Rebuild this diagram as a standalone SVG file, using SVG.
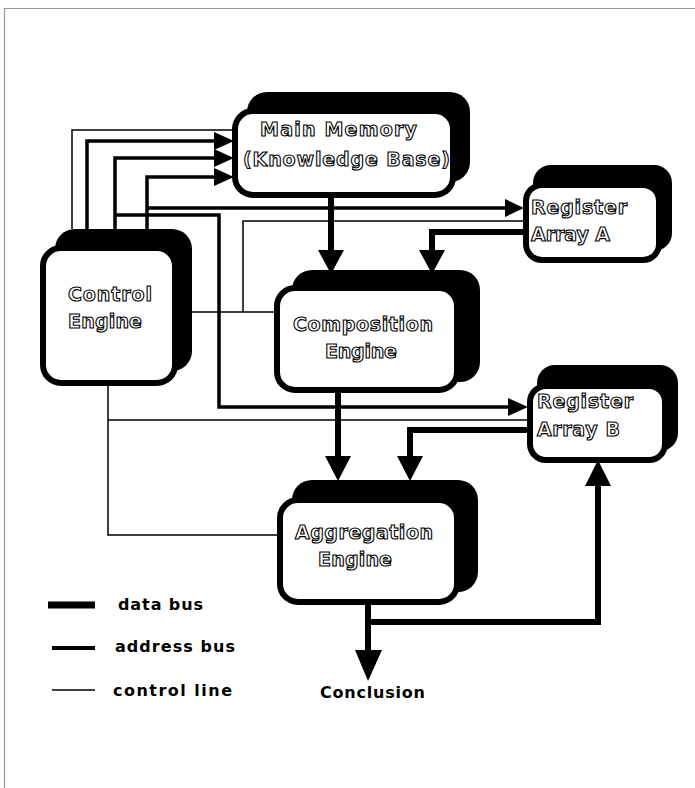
<svg xmlns="http://www.w3.org/2000/svg" width="695" height="788" viewBox="0 0 695 788">
<style>
.frame{fill:none;stroke:#999;stroke-width:1.2}
.sh{fill:#000}
.bx{fill:#fff;stroke:#000;stroke-width:6}
.lbl{font-family:"DejaVu Sans",sans-serif;font-weight:bold;font-size:19px;fill:#fff;stroke:#000;stroke-width:1.1}
.ctl{fill:none;stroke:#000;stroke-width:1.5}
.adr{fill:none;stroke:#000;stroke-width:3.5}
.dat{fill:none;stroke:#000;stroke-width:6}
.ah{fill:#000}
.leg{font-family:"DejaVu Sans",sans-serif;font-weight:bold;font-size:16px;fill:#000}
</style>
<path class="frame" d="M4.5,788 V8.5 H695"/>
<g id="connectors">
<path class="ctl" d="M72,229 V130 H234"/>
<path class="ctl" d="M192,312 H275"/>
<path class="ctl" d="M243,312 V221 H524"/>
<path class="ctl" d="M108,385 V535 H278"/>
<path class="ctl" d="M108,420 H528"/>
<path class="adr" d="M87,229 V141 H216"/>
<path class="adr" d="M115,229 V158 H216"/>
<path class="adr" d="M147,229 V177 H216"/>
<path class="adr" d="M147,208 H507"/>
<path class="adr" d="M115,215 H219 V407 H510"/>
<polygon class="ah" points="214,132 234,141 214,150"/>
<polygon class="ah" points="214,149 234,158 214,167"/>
<polygon class="ah" points="214,168 234,177 214,186"/>
<polygon class="ah" points="505,199 524,208 505,217"/>
<polygon class="ah" points="508,398 528,407 508,416"/>
<path class="dat" d="M331,197 V252"/>
<path class="dat" d="M524,232 H432 V252"/>
<path class="dat" d="M338,392 V458"/>
<path class="dat" d="M528,430 H410 V458"/>
<path class="dat" d="M368,604 V652"/>
<path class="dat" d="M368,622 H598 V484"/>
<polygon class="ah" points="318,250 344,250 331,274"/>
<polygon class="ah" points="419,250 445,250 432,274"/>
<polygon class="ah" points="325,456 351,456 338,481"/>
<polygon class="ah" points="397,456 423,456 410,481"/>
<polygon class="ah" points="355,650 382,650 368,681"/>
<polygon class="ah" points="585,486 611,486 598,460"/>
</g>
<g id="main-memory">
<rect class="sh" x="247" y="92" width="223" height="90" rx="20"/>
<rect class="bx" x="235" y="111" width="218" height="84" rx="18"/>
<text class="lbl" x="260" y="136" textLength="157">Main Memory</text>
<text class="lbl" x="243" y="166" textLength="207">(Knowledge Base)</text>
</g>
<g id="control-engine">
<rect class="sh" x="55" y="229" width="137" height="142" rx="20"/>
<rect class="bx" x="43" y="248" width="132" height="135" rx="18"/>
<text class="lbl" x="68" y="301" textLength="84">Control</text>
<text class="lbl" x="68" y="328" textLength="74">Engine</text>
</g>
<g id="register-a">
<rect class="sh" x="533" y="165" width="139" height="86" rx="18"/>
<rect class="bx" x="526" y="185" width="133" height="75" rx="16"/>
<text class="lbl" x="531" y="214" textLength="96">Register</text>
<text class="lbl" x="531" y="241" textLength="79">Array A</text>
</g>
<g id="composition-engine">
<rect class="sh" x="292" y="270" width="188" height="112" rx="20"/>
<rect class="bx" x="277" y="288" width="180" height="102" rx="18"/>
<text class="lbl" x="293" y="331" textLength="140">Composition</text>
<text class="lbl" x="325" y="358" textLength="72">Engine</text>
</g>
<g id="register-b">
<rect class="sh" x="537" y="365" width="141" height="86" rx="18"/>
<rect class="bx" x="530" y="386" width="135" height="74" rx="16"/>
<text class="lbl" x="537" y="408" textLength="96">Register</text>
<text class="lbl" x="537" y="436" textLength="83">Array B</text>
</g>
<g id="aggregation-engine">
<rect class="sh" x="292" y="480" width="186" height="112" rx="20"/>
<rect class="bx" x="280" y="500" width="177" height="102" rx="18"/>
<text class="lbl" x="295" y="539" textLength="138">Aggregation</text>
<text class="lbl" x="318" y="566" textLength="74">Engine</text>
</g>
<g id="legend">
<line x1="48" y1="605" x2="95" y2="605" stroke="#000" stroke-width="7"/>
<line x1="52" y1="648" x2="95" y2="648" stroke="#000" stroke-width="4"/>
<line x1="52" y1="690" x2="95" y2="690" stroke="#000" stroke-width="1.5"/>
<text class="leg" x="118" y="610" textLength="85">data bus</text>
<text class="leg" x="115" y="652" textLength="120">address bus</text>
<text class="leg" x="113" y="696" textLength="119">control line</text>
</g>
<g id="conclusion">
<text class="leg" x="320" y="698" textLength="105">Conclusion</text>
</g>
</svg>
